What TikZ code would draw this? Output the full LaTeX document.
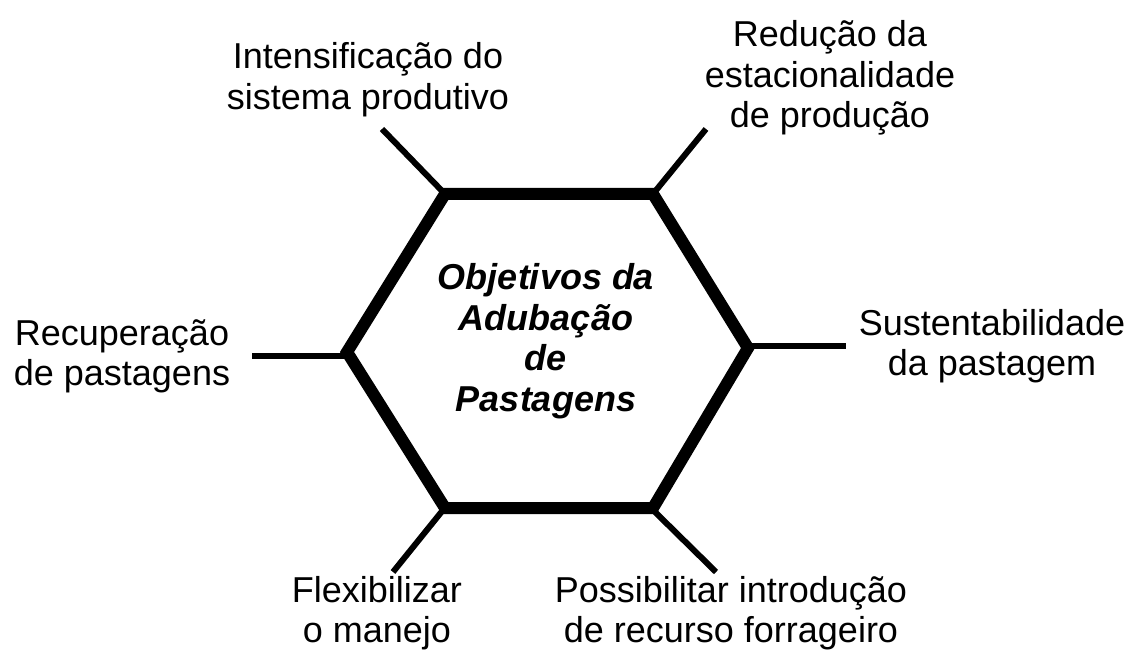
\documentclass[tikz,border=0pt]{standalone}
\usepackage{fontspec}
\setmainfont{Liberation Sans}
\begin{document}
\begin{tikzpicture}[x=1pt,y=-1pt,
  hexline/.style={line width=12pt, line join=miter},
  spoke/.style={line width=6pt},
  lbl/.style={anchor=base, inner sep=0pt, font=\fontsize{36}{40.5}\selectfont},
  ctr/.style={anchor=base, inner sep=0pt, font=\fontsize{36}{40.5}\selectfont\bfseries\itshape}]
\useasboundingbox (0,0) rectangle (1135,668);
% hexagon vertices
\coordinate (A) at (445,194);
\coordinate (B) at (653,194);
\coordinate (C) at (748,348);
\coordinate (D) at (653,508);
\coordinate (E) at (445,508);
\coordinate (F) at (347,352);
% spoke ends
\coordinate (a1) at (382,129);
\coordinate (b1) at (706,129);
\coordinate (c0) at (748,346);
\coordinate (c1) at (846,346);
\coordinate (f0) at (347,356);
\coordinate (f1) at (252,356);
\coordinate (e0) at (443,510);
\coordinate (e1) at (393,572);
\coordinate (d0) at (653,510);
\coordinate (d1) at (716,572);
% spokes
\draw[spoke] (A) -- (a1);
\draw[spoke] (B) -- (b1);
\draw[spoke] (c0) -- (c1);
\draw[spoke] (f0) -- (f1);
\draw[spoke] (e0) -- (e1);
\draw[spoke] (d0) -- (d1);
% hexagon
\draw[hexline] (A) -- (B) -- (C) -- (D) -- (E) -- (F) -- cycle;
% labels
\node[ctr] (centre) at (546,290) {\begin{tabular}[t]{@{}c@{}}Objetivos da\\Adubação\\de\\Pastagens\end{tabular}};
\node[lbl] (intens) at (368,69) {\begin{tabular}[t]{@{}c@{}}Intensificação do\\sistema produtivo\end{tabular}};
\node[lbl] (reduc) at (830,47) {\begin{tabular}[t]{@{}c@{}}Redução da\\estacionalidade\\de produção\end{tabular}};
\node[lbl] (recup) at (122,345) {\begin{tabular}[t]{@{}c@{}}Recuperação\\de pastagens\end{tabular}};
\node[lbl] (sust) at (992,335) {\begin{tabular}[t]{@{}c@{}}Sustentabilidade\\da pastagem\end{tabular}};
\node[lbl] (flex) at (377,602) {\begin{tabular}[t]{@{}c@{}}Flexibilizar\\o manejo\end{tabular}};
\node[lbl] (poss) at (731,602) {\begin{tabular}[t]{@{}c@{}}Possibilitar introdução\\de recurso forrageiro\end{tabular}};
\end{tikzpicture}
\end{document}
